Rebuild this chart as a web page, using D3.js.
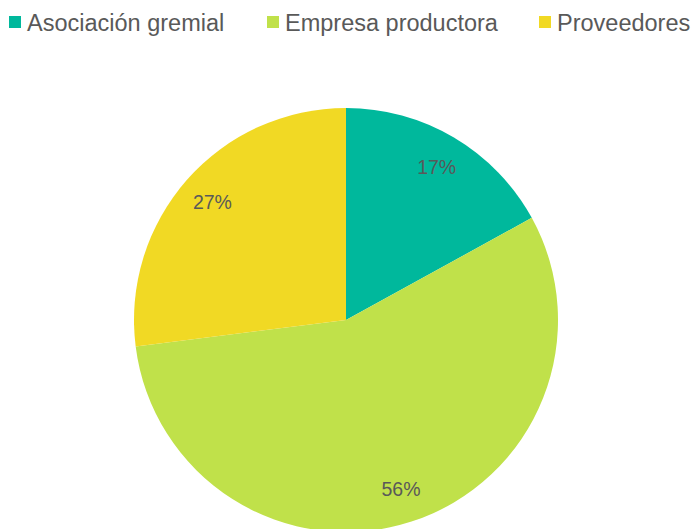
<!DOCTYPE html>
<html>
<head>
<meta charset="utf-8">
<script src="https://cdn.jsdelivr.net/npm/d3@7"></script>
<style>
  body { margin: 0; background: #fff; }
  svg { display: block; font-family: "Liberation Sans", Arial, sans-serif; }
</style>
</head>
<body>
<svg id="chart" width="695" height="529"></svg>
<script>
const categories = ["Asociación gremial", "Empresa productora", "Proveedores"];
const values = [17, 56, 27];
const colors = ["#00B89C", "#C0E14A", "#F1D924"];
const legendX = [9, 267, 539];

const svg = d3.select("#chart");
const width = 695, height = 529;
const cx = 346, cy = 320, radius = 212;

const data = categories.map((c, i) => ({ name: c, value: values[i], color: colors[i] }));

const pie = d3.pie().value(d => d.value).sort(null);
const arc = d3.arc().innerRadius(0).outerRadius(radius);
const labelArc = d3.arc().innerRadius(radius * 0.84).outerRadius(radius * 0.84);

const g = svg.append("g").attr("transform", `translate(${cx},${cy})`);

g.selectAll("path")
  .data(pie(data))
  .join("path")
  .attr("d", arc)
  .attr("fill", d => d.data.color);

g.selectAll("text")
  .data(pie(data))
  .join("text")
  .attr("transform", d => `translate(${labelArc.centroid(d)})`)
  .attr("text-anchor", "middle")
  .attr("dy", "0.35em")
  .attr("font-size", "19.5px")
  .attr("fill", "#595959")
  .text(d => d.data.value + "%");

// leyenda
const legend = svg.append("g");
const item = legend.selectAll("g")
  .data(data)
  .join("g")
  .attr("transform", (d, i) => `translate(${legendX[i]},0)`);

item.append("rect")
  .attr("x", 0).attr("y", 16)
  .attr("width", 12).attr("height", 12)
  .attr("fill", d => d.color);

item.append("text")
  .attr("x", 18).attr("y", 31)
  .attr("font-size", "23.5px")
  .attr("fill", "#595959")
  .text(d => d.name);
</script>
</body>
</html>
